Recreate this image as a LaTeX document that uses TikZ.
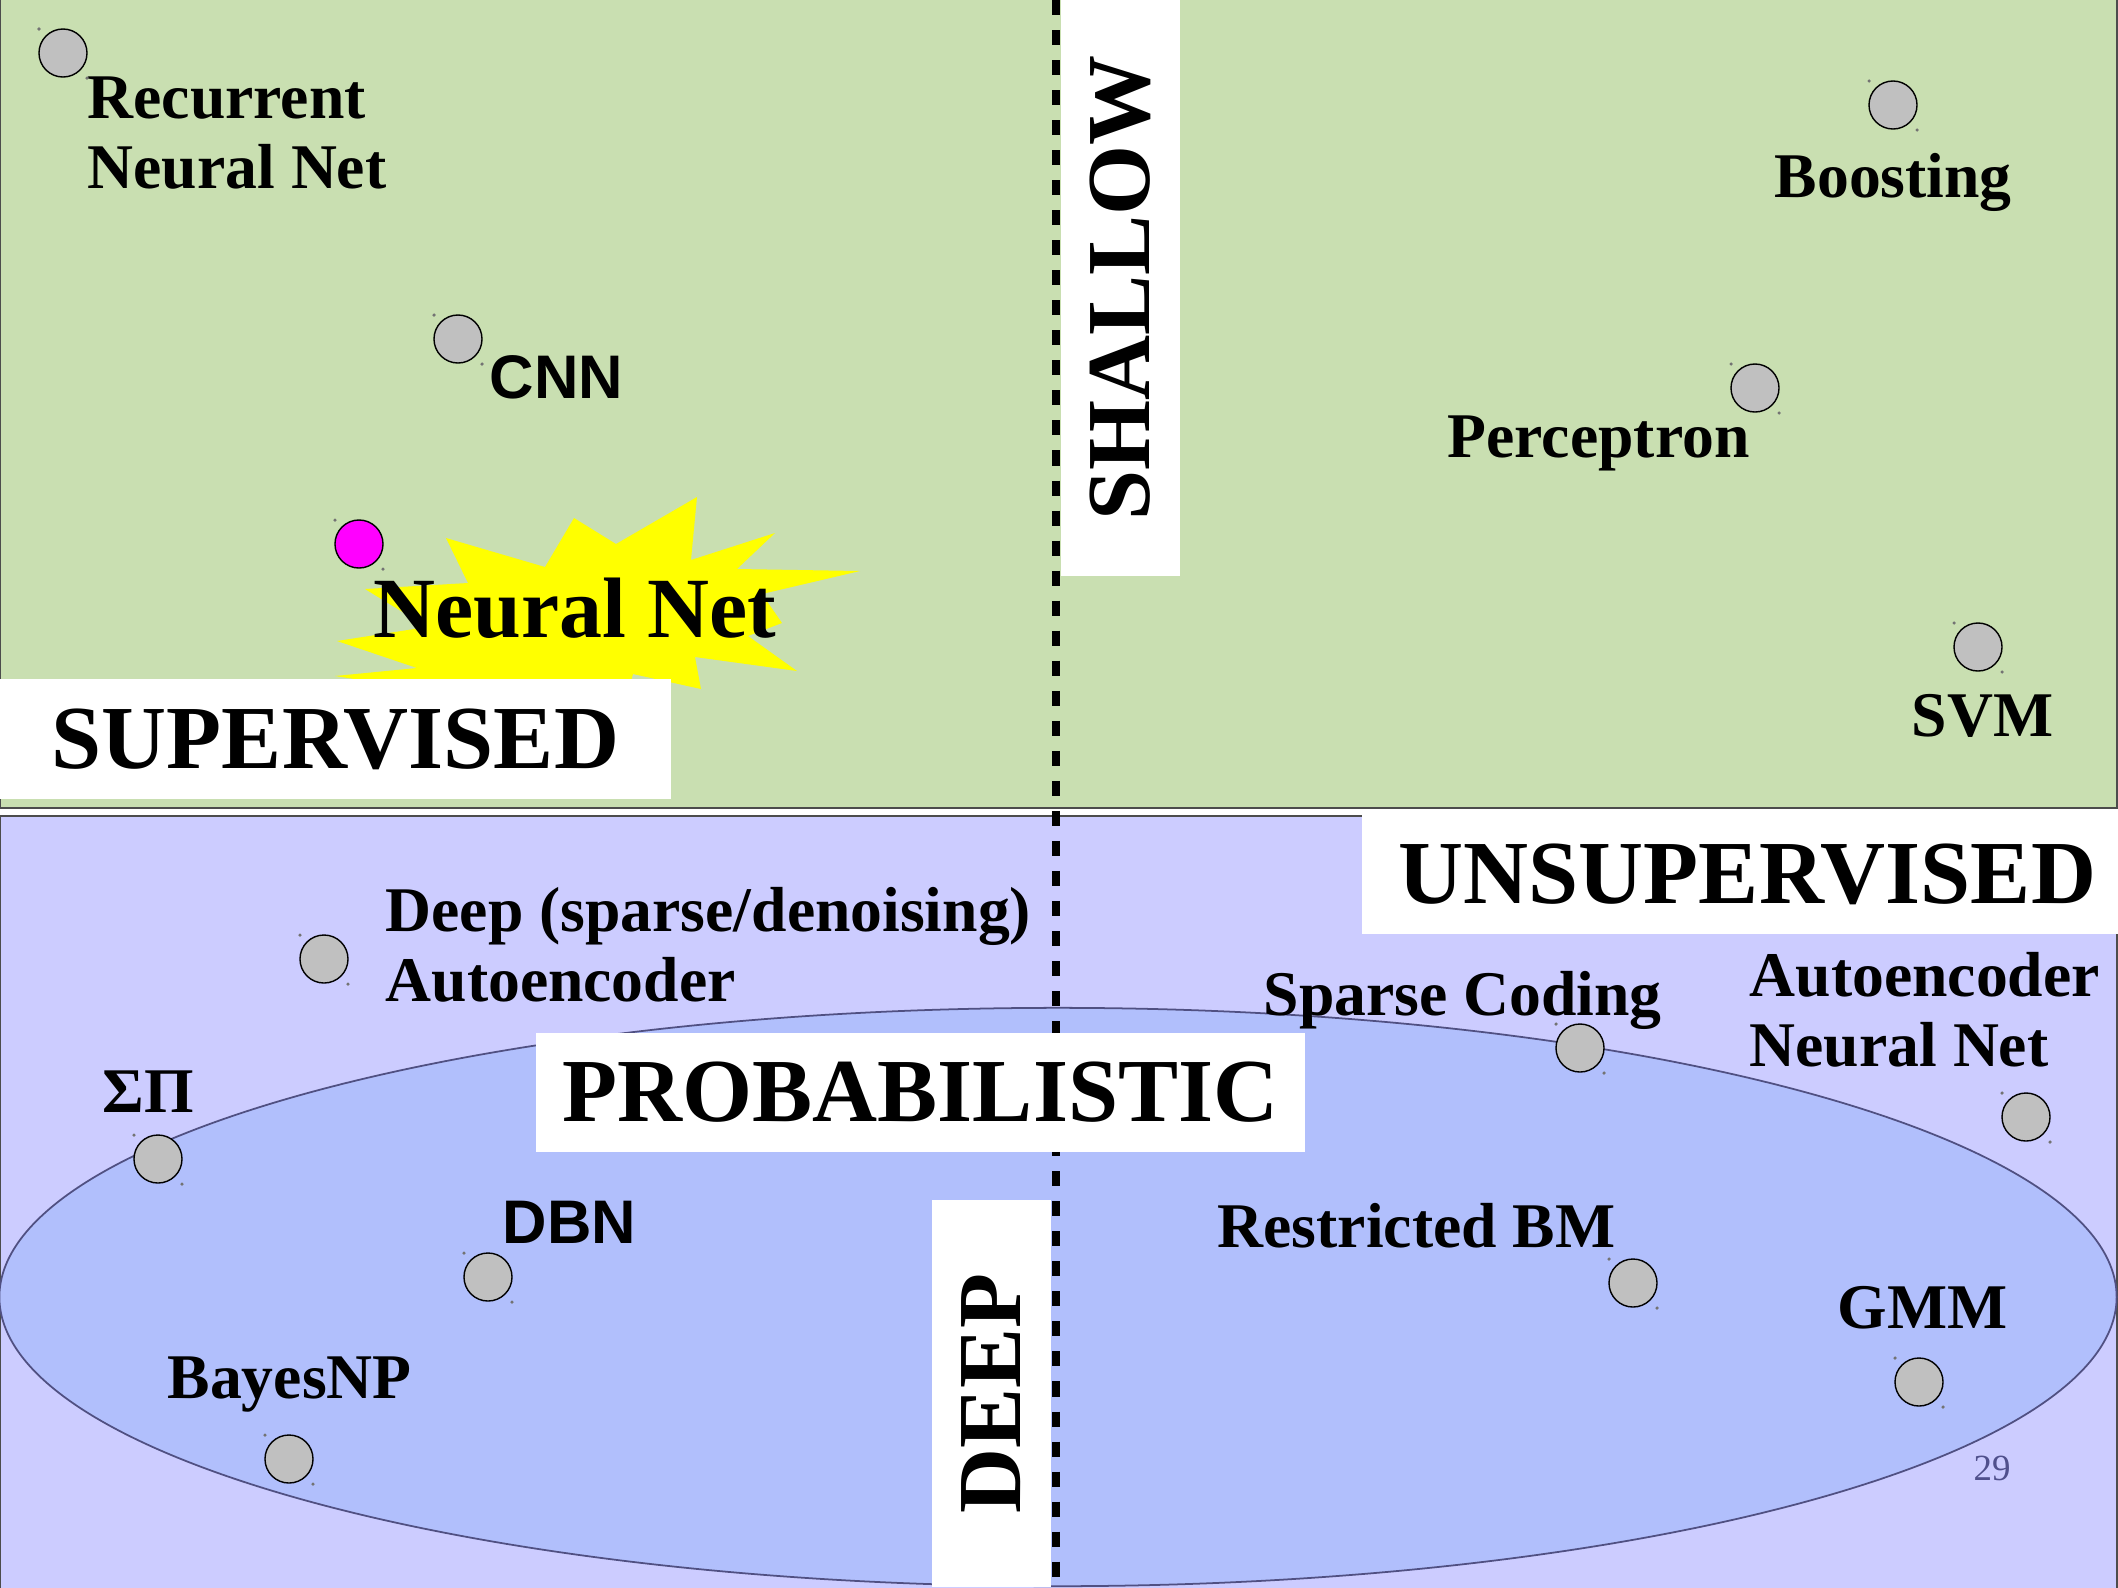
\documentclass[tikz,border=0pt]{standalone}
\usepackage{fontspec}
\setmainfont{Liberation Serif}
\newfontfamily\arialfont{Liberation Sans}
\usetikzlibrary{calc}

\definecolor{greenbg}{RGB}{201,223,177}
\definecolor{lilac}{RGB}{204,204,255}
\definecolor{ellfill}{RGB}{177,191,252}
\definecolor{ellline}{RGB}{80,80,130}
\definecolor{dotgray}{RGB}{192,192,192}
\definecolor{hotpink}{RGB}{255,0,255}
\definecolor{starcol}{RGB}{255,255,0}
\definecolor{pagecol}{RGB}{80,80,140}

\tikzset{
  panel/.style={draw=black!70, line width=0.6pt},
  divider/.style={line width=2.13pt, dash pattern=on 4.27pt off 4.27pt},
  dot/.style={circle, draw=black, line width=0.4pt, fill=dotgray, minimum size=0.48cm, inner sep=0pt},
  speck/.style={fill=black!55},
  lbl/.style={anchor=base west, inner sep=0pt, align=left,
    font=\fontsize{18.1}{19.9}\selectfont\bfseries},
  sanslbl/.style={anchor=base west, inner sep=0pt,
    font=\fontsize{17.5}{19.9}\selectfont\arialfont\bfseries},
  biglbl/.style={anchor=base west, inner sep=0pt,
    font=\fontsize{24.4}{28}\selectfont\bfseries},
  headbox/.style={fill=white, inner sep=0pt, minimum height=1.19cm,
    font=\fontsize{25.6}{28}\selectfont\bfseries},
  pagenum/.style={anchor=base west, inner sep=0pt, text=pagecol,
    font=\fontsize{10.5}{12}\selectfont},
}

\begin{document}
\begin{tikzpicture}[x=0.01cm, y=-0.01cm]
\useasboundingbox (0,0) rectangle (2118,1587);
\fill[white] (0,0) rectangle (2118,1587);

% two panels
\draw[panel, fill=greenbg] (0,-2) rectangle (2117,808);
\draw[panel, fill=lilac] (0,816) rectangle (2117,1592);

% probabilistic region
\draw[fill=ellfill, draw=ellline, line width=0.5pt] (1058,1297) ellipse [x radius=10.58cm, y radius=2.89cm];

% starburst behind the highlighted label
\fill[starcol] (697,497) -- (691,560) -- (775,533) -- (737,569) -- (860,571)
  -- (762,594) -- (782,623) -- (748,636) -- (797,671) -- (695,657)
  -- (701,689) -- (633,674) -- (620,720) -- (335,676) -- (417,668)
  -- (337,641) -- (427,627) -- (365,589) -- (468,583) -- (446,538)
  -- (545,567) -- (574,518) -- (616,544) -- cycle;

% deep / shallow divider
\coordinate (axtop) at (1056,0);
\coordinate (axbot) at (1056,1587);
\draw[divider] (axtop) -- (axbot);

% heading boxes
\node[headbox, minimum width=6.71cm] (sup) at (335.5,739) {SUPERVISED};
\node[headbox, minimum width=7.71cm] (unsup) at (1747.5,874.5) {UNSUPERVISED};
\node[headbox, minimum width=7.69cm] (prob) at (920.5,1092.5) {PROBABILISTIC};
\node[headbox, minimum width=5.76cm, rotate=90] (shallow) at (1120.5,288) {SHALLOW};
\node[headbox, minimum width=3.87cm, rotate=90] (deep) at (991.5,1393.5) {DEEP};

% methods
\node[dot] (rnn) at (63,53) {};
\node[lbl] (rnnl) at (87,188) {Recurrent\\Neural Net};
\node[dot] (cnn) at (458,339) {};
\node[sanslbl] (cnnl) at (489,398) {CNN};
\node[dot, fill=hotpink] (nn) at (359,544) {};
\node[biglbl] (nnl) at (373,637) {Neural Net};
\node[dot] (boost) at (1893,105) {};
\node[lbl] (boostl) at (1774,197) {Boosting};
\node[dot] (perc) at (1755,388) {};
\node[lbl] (percl) at (1447,457) {Perceptron};
\node[dot] (svm) at (1978,647) {};
\node[lbl] (svml) at (1911,736) {SVM};
\node[dot] (dae) at (324,959) {};
\node[lbl] (dael) at (385,1001) {Deep (sparse/denoising)\\Autoencoder};
\node[dot] (sc) at (1580,1048) {};
\node[lbl] (scl) at (1263,1015) {Sparse Coding};
\node[dot] (aenn) at (2026,1117) {};
\node[lbl] (aennl) at (1749,1066) {Autoencoder\\Neural Net};
\node[dot] (sp) at (158,1159) {};
\node[lbl] (spl) at (102,1112) {ΣΠ};
\node[dot] (dbn) at (488,1277) {};
\node[sanslbl] (dbnl) at (502,1243) {DBN};
\node[dot] (bnp) at (289,1459) {};
\node[lbl] (bnpl) at (167,1398) {BayesNP};
\node[dot] (rbm) at (1633,1283) {};
\node[lbl] (rbml) at (1217,1247) {Restricted BM};
\node[dot] (gmm) at (1919,1382) {};
\node[lbl] (gmml) at (1837,1328) {GMM};

% selection handles left on each marker
\foreach \n in {rnn,cnn,nn,boost,perc,svm,dae,sc,aenn,sp,dbn,bnp,rbm,gmm}{
  \fill[speck] ($(\n)+(-24,-24)$) circle[radius=0.5pt];
  \fill[speck] ($(\n)+(24,25)$) circle[radius=0.5pt];
}

\node[pagenum] (page) at (1973,1480) {29};
\end{tikzpicture}
\end{document}
